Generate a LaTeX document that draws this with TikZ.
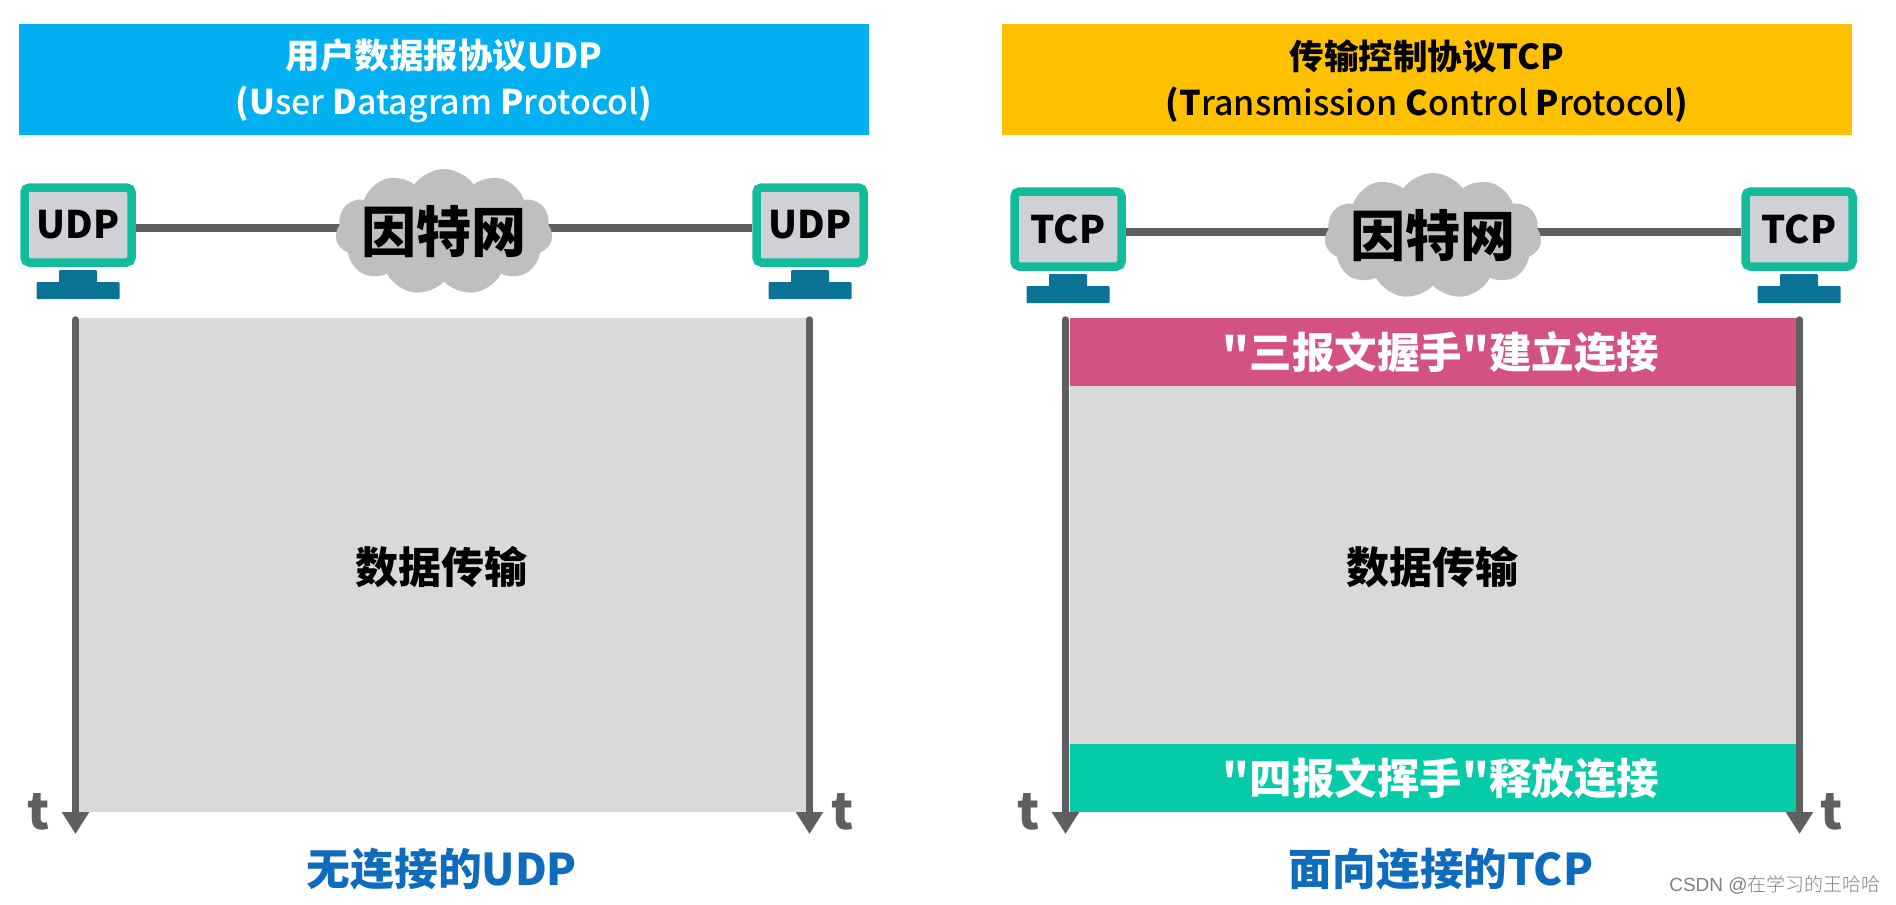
\documentclass[tikz,border=0pt]{standalone}
\usepackage{fontspec}
\setmainfont{Noto Sans CJK SC}
\newfontfamily\qfont{Noto Sans CJK SC Bold}
\newfontfamily\medfont{Noto Sans CJK SC Medium}
\newfontfamily\wmfont{Liberation Sans}
\newfontfamily\wmcjk{Noto Sans CJK SC Light}
\usetikzlibrary{arrows.meta,shapes.symbols,backgrounds}
\definecolor{udpblue}{HTML}{00B0F0}
\definecolor{tcpgold}{HTML}{FFC000}
\definecolor{screen}{HTML}{D0D1D6}
\definecolor{bezel}{HTML}{12BC9B}
\definecolor{standc}{HTML}{0B7396}
\definecolor{linec}{HTML}{5F5E60}
\definecolor{cloudc}{HTML}{BFBFBF}
\definecolor{panel}{HTML}{D9D9DB}
\definecolor{pinkc}{HTML}{D35283}
\definecolor{greenc}{HTML}{05CBA8}
\definecolor{capblue}{HTML}{0F6CBD}
\newcommand{\fs}[1]{\fontsize{#1}{#1}\selectfont}
\newcommand{\bq}{{\qfont "}}
\tikzset{
  x=1pt,y=-1pt,
  header/.style={anchor=center,inner sep=0,align=center,text=#1,font=\fs{34},execute at begin node=\setlength{\baselineskip}{46pt}},
  headbox/.style={minimum width=850,minimum height=111,inner sep=0},
  monitor/.style={draw=bezel,fill=screen,line width=8.5,rounded corners=5,minimum width=107,minimum height=75,inner sep=0,font=\fs{38}\bfseries,text=black},
  standpart/.style={fill=standc,inner sep=0,rounded corners=1},
  netcloud/.style={shape=cloud,cloud puffs=11,cloud puff arc=110,aspect=1.75,fill=cloudc,minimum width=217,minimum height=126,inner sep=0},
  cloudtext/.style={font=\fs{55}\bfseries,text=black,inner sep=0},
  link/.style={draw=linec,line width=8},
  panelbox/.style={fill=panel,inner sep=0},
  band/.style={inner sep=0,text=white,font=\fs{42.5}\bfseries},
  axis/.style={draw=linec,line width=7.5,line cap=round,-{Triangle[width=26,length=22]}},
  tlabel/.style={text=linec,font=\fs{50}\bfseries,inner sep=0},
  midtext/.style={font=\fs{43}\bfseries,text=black,inner sep=0},
  capt/.style={font=\fs{43.7}\bfseries,text=capblue,inner sep=0},
}
\newcommand{\computer}[4]{% name, cx, cy, label
  \node[monitor] (#1) at (#2,#3) {#4};
  \node[standpart,minimum width=38,minimum height=13,anchor=north] (#1s) at (#2,#3+45) {};
  \node[standpart,minimum width=83,minimum height=17,anchor=north] (#1b) at (#2,#3+57) {};
}
\begin{document}
\begin{tikzpicture}
\useasboundingbox (0,0) rectangle (1896,905);
% headers
\node[headbox,fill=udpblue] (h1) at (444,79.5) {};
\node[headbox,fill=tcpgold] (h2) at (1427,79.5) {};
\node[header=white] (h1t) at (444,81) {{\fs{34.5}\bfseries 用户数据报协议UDP}\\{\medfont\textbf{(U}ser \textbf{D}atagram \textbf{P}rotocol\textbf{)}}};
\node[header=black] (h2t) at (1427,81) {{\fs{34.5}\bfseries 传输控制协议TCP}\\{\medfont\textbf{(T}ransmission \textbf{C}ontrol \textbf{P}rotocol\textbf{)}}};
% UDP side
\computer{ua}{78}{225}{UDP}
\computer{ub}{810}{225}{UDP}
\node[netcloud] (uc) at (444,232) {};
\node[cloudtext] (ucl) at (444,232) {因特网};
\coordinate (uy) at (444,228);
\begin{scope}[on background layer]
\draw[link] (ua.east |- uy) -- (uy);
\draw[link] (uy) -- (ub.west |- uy);
\end{scope}
\node[panelbox,minimum width=729,minimum height=494,anchor=north west] (up) at (79,318) {};
\node[midtext] (ut) at (441,567) {数据传输};
\coordinate (uat) at (75.5,320);
\coordinate (uab) at (75.5,834);
\coordinate (ubt) at (809.5,320);
\coordinate (ubb) at (809.5,834);
\draw[axis] (uat) -- (uab);
\draw[axis] (ubt) -- (ubb);
\node[tlabel] (utl) at (39,812) {t};
\node[tlabel] (utr) at (843,812) {t};
\node[capt] (ucap) at (442,869) {无连接的UDP};
% TCP side
\computer{ta}{1068}{229}{TCP}
\computer{tb}{1799}{229}{TCP}
\node[netcloud] (tc) at (1433,236) {};
\node[cloudtext] (tcl) at (1433,236) {因特网};
\coordinate (ty) at (1433,232);
\begin{scope}[on background layer]
\draw[link] (ta.east |- ty) -- (ty);
\draw[link] (ty) -- (tb.west |- ty);
\end{scope}
\node[panelbox,minimum width=727,minimum height=358,anchor=north west] (tp) at (1070,386) {};
\node[band,fill=pinkc,minimum width=727,minimum height=68,anchor=north west] (tb1) at (1070,318) {};
\node[band] (tb1l) at (1441,352) {\bq 三报文握手\bq 建立连接};
\node[band,fill=greenc,minimum width=727,minimum height=68,anchor=north west] (tb2) at (1070,744) {};
\node[band] (tb2l) at (1441,778) {\bq 四报文挥手\bq 释放连接};
\node[midtext] (tt) at (1432,567) {数据传输};
\coordinate (tat) at (1065.5,320);
\coordinate (tab) at (1065.5,834);
\coordinate (tbt) at (1799.5,320);
\coordinate (tbb) at (1799.5,834);
\draw[axis] (tat) -- (tab);
\draw[axis] (tbt) -- (tbb);
\node[tlabel] (ttl) at (1029,812) {t};
\node[tlabel] (ttr) at (1832,812) {t};
\node[capt] (tcap) at (1441,869) {面向连接的TCP};
% watermark
\node[inner sep=0,text=black!50,font=\fs{19}] (wm) at (1775,885) {{\wmfont CSDN @}{\wmcjk 在学习的王哈哈}};
\end{tikzpicture}
\end{document}
